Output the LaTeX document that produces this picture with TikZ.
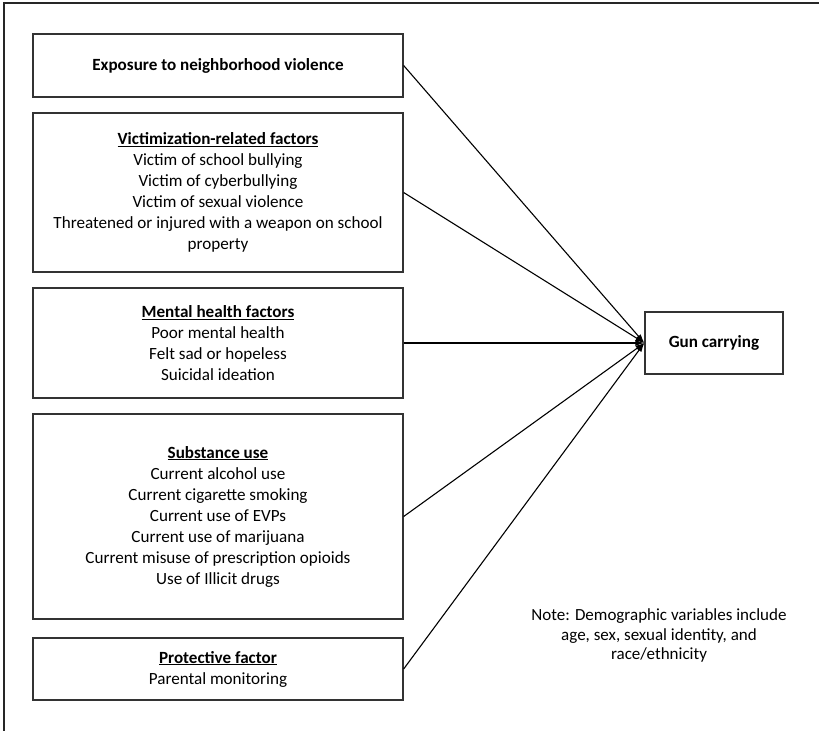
\documentclass[tikz,border=0pt]{standalone}
\usepackage{fontspec}
\setmainfont{Carlito}
\usetikzlibrary{arrows.meta}
\begin{document}
\begin{tikzpicture}[x=1pt,y=-1pt,
  box/.style={draw=black!80, line width=1.3pt, fill=white, align=center, inner sep=0pt,
    font=\fontsize{17.1}{21}\selectfont},
  conn/.style={draw=black, line width=1.1pt, -{Latex[length=9pt,width=6pt]}},
  notetext/.style={align=center, inner sep=0pt, font=\fontsize{17}{19.5}\selectfont}]
\useasboundingbox (0,0) rectangle (819,731);
\draw[black!85, line width=1.2pt] (819,3) -- (4,3) -- (4,731);
\node[box, minimum width=370, minimum height=63] (b1) at (218,65.5) {\textbf{Exposure to neighborhood violence}};
\node[box, minimum width=370, minimum height=159] (b2) at (218,192.5) {\textbf{\underline{Victimization-related factors}}\\Victim of school bullying\\Victim of cyberbullying\\Victim of sexual violence\\Threatened or injured with a weapon on school\\property};
\node[box, minimum width=370, minimum height=110] (b3) at (218,343) {\textbf{\underline{Mental health factors}}\\Poor mental health\\Felt sad or hopeless\\Suicidal ideation};
\node[box, minimum width=370, minimum height=205] (b4) at (218,516.5) {\textbf{\underline{Substance use}}\\Current alcohol use\\Current cigarette smoking\\Current use of EVPs\\Current use of marijuana\\Current misuse of prescription opioids\\Use of Illicit drugs};
\node[box, minimum width=370, minimum height=62] (b5) at (218,669) {\textbf{\underline{Protective factor}}\\Parental monitoring};
\node[box, minimum width=138, minimum height=62] (gun) at (714,343) {\textbf{Gun carrying}};
\node[notetext] (note) at (659,635.5) {Note: Demographic variables include\\age, sex, sexual identity, and\\race/ethnicity};
\foreach \b in {b1,b2,b3,b4,b5} \draw[conn] (\b.east) -- (gun.west);
\end{tikzpicture}
\end{document}
